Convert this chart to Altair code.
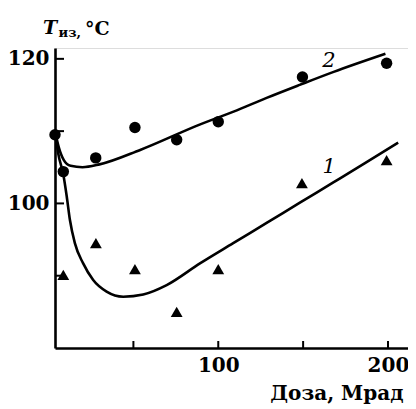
import altair as alt
import pandas as pd

FONT = "DejaVu Serif"

# measured points (dose, Mrad ; T, °C)
dose_circles = [3.8, 8.7, 27.8, 50.9, 75.5, 100, 149.6, 199.2]
temp_circles = [109.5, 104.4, 106.3, 110.5, 108.8, 111.3, 117.5, 119.4]
dose_triangles = [8.7, 27.9, 50.9, 75.5, 100, 149.3, 199.2]
temp_triangles = [90.1, 94.5, 90.9, 85.0, 90.9, 102.8, 106.0]

# fitted curves
curve2_dose = [3.8, 6, 9, 13, 20, 30, 54, 89, 109, 128.5, 148, 168, 198.5]
curve2_temp = [110.0, 107.8, 106.0, 105.2, 105.0, 105.4, 107.4, 110.9, 112.7, 114.6, 116.4, 118.2, 120.7]
curve1_dose = [3.8, 5.7, 8.7, 10.7, 12.6, 15.5, 20.4, 26.3, 34.2, 44, 55.8, 69.6, 89.2, 108.8, 128.5, 148.1, 167.8, 187.4, 206]
curve1_temp = [110.0, 106.9, 104.0, 101.0, 97.7, 94.5, 91.7, 89.4, 87.8, 87.1, 87.4, 88.7, 91.7, 94.5, 97.3, 100.1, 102.9, 105.7, 108.4]

curve_labels = ["2", "1"]
label_dose = [165.2, 165.4]
label_temp = [119.7, 105.0]

x_tick_values = [50, 100, 150, 200]
y_tick_values = [90, 100, 110, 120]
x_label_values = [100, 200]
y_label_values = [100, 120]
x_title = "Доза, Мрад"
y_title_main = "T"
y_title_sub = "из,"
y_title_unit = "°C"

curves = pd.DataFrame({
    "dose": curve2_dose + curve1_dose,
    "temp": curve2_temp + curve1_temp,
    "series": ["2"] * len(curve2_dose) + ["1"] * len(curve1_dose),
})
circ = pd.DataFrame({"dose": dose_circles, "temp": temp_circles})
tri = pd.DataFrame({"dose": dose_triangles, "temp": temp_triangles})
labels = pd.DataFrame({"dose": label_dose, "temp": label_temp, "t": curve_labels})
xt = pd.DataFrame({"dose": x_tick_values})
yt = pd.DataFrame({"temp": y_tick_values})

xs = alt.Scale(domain=[3.8, 211.8], nice=False, zero=False)
ys = alt.Scale(domain=[80, 121.5], nice=False, zero=False)

x_axis = alt.Axis(values=x_label_values, grid=False, ticks=False, tickSize=0,
                  labelFont=FONT, labelFontSize=20, labelFontWeight="bold", labelColor="black",
                  labelPadding=7, labelFlush=False, labelOverlap=False,
                  domainColor="black", domainWidth=2.6, title=None)
y_axis = alt.Axis(values=y_label_values, grid=False, ticks=False, tickSize=0,
                  labelFont=FONT, labelFontSize=20, labelFontWeight="bold", labelColor="black",
                  labelPadding=6, labelFlush=False, labelOverlap=False,
                  domainColor="black", domainWidth=2.6, title=None)

X = lambda: alt.X("dose:Q", scale=xs, axis=x_axis)
Y = lambda: alt.Y("temp:Q", scale=ys, axis=y_axis)

lines = alt.Chart(curves).mark_line(color="black", strokeWidth=2.6, interpolate="monotone").encode(
    x=X(), y=Y(), detail="series:N")
circles = alt.Chart(circ).mark_point(shape="circle", filled=True, size=130, color="black", opacity=1).encode(
    x=X(), y=Y())
triangles = alt.Chart(tri).mark_point(shape="triangle-up", filled=True, size=140, color="black", opacity=1).encode(
    x=X(), y=Y())
xticks = alt.Chart(xt).mark_rule(color="black", strokeWidth=2).encode(
    x=X(), y=alt.value(300), y2=alt.value(293))
yticks = alt.Chart(yt).mark_rule(color="black", strokeWidth=2).encode(
    y=Y(), x=alt.value(0), x2=alt.value(9))
curve_text = alt.Chart(labels).mark_text(font=FONT, fontStyle="italic", fontSize=21, color="black",
                                         align="center", baseline="middle").encode(
    x=X(), y=Y(), text="t:N")

title_df = pd.DataFrame({"t": [x_title]})
xtitle = alt.Chart(title_df).mark_text(font=FONT, fontSize=20, fontWeight="bold", color="black",
                                       align="right", baseline="alphabetic").encode(
    x=alt.value(348.5), y=alt.value(352), text="t:N")
yt1 = alt.Chart(pd.DataFrame({"t": [y_title_main]})).mark_text(
    font=FONT, fontSize=19, fontStyle="italic", fontWeight="bold", color="black", align="left",
    baseline="alphabetic").encode(
    x=alt.value(-12), y=alt.value(-14), text="t:N")
yt2 = alt.Chart(pd.DataFrame({"t": [y_title_sub]})).mark_text(
    font=FONT, fontSize=13, fontWeight="bold", color="black", align="left", baseline="alphabetic").encode(
    x=alt.value(3.5), y=alt.value(-11.5), text="t:N")
yt3 = alt.Chart(pd.DataFrame({"t": [y_title_unit]})).mark_text(
    font=FONT, fontSize=19, fontWeight="bold", color="black", align="left", baseline="alphabetic").encode(
    x=alt.value(30), y=alt.value(-13), text="t:N")

chart = alt.layer(lines, circles, triangles, xticks, yticks, curve_text, xtitle, yt1, yt2, yt3).properties(
    width=353, height=300,
    autosize=alt.AutoSizeParams(type="none"),
    padding={"left": 47, "top": 40, "right": 0, "bottom": 61},
).configure_view(stroke=None).configure(background="white")

chart.save("out.html", embed_options={"renderer": "svg", "actions": False})
